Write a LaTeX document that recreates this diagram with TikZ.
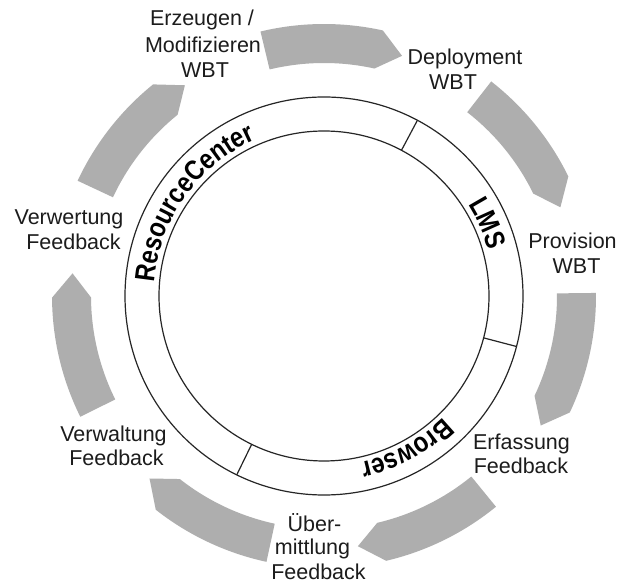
\documentclass[tikz,border=0pt]{standalone}
\usepackage{fontspec}
\setmainfont{Liberation Sans}
\newfontfamily\ringfam[FakeStretch=0.85]{Liberation Sans Bold}
\usetikzlibrary{decorations.text}
\definecolor{arrowgray}{RGB}{174,174,174}
\definecolor{txt}{RGB}{28,28,28}
\newcommand\ringfont{\ringfam\fontsize{28}{28}\selectfont}
\tikzset{
  lbl/.style={inner sep=0pt, text=txt, font=\fontsize{21.5}{25}\selectfont,
              text height=15.4pt, text depth=4.5pt, anchor=center},
  ringline/.style={draw=black!85, line width=1.2pt},
  cyclearrow/.style={fill=arrowgray, draw=none},
}
\begin{document}
\begin{tikzpicture}[x=1pt,y=1pt]
\useasboundingbox (0,0) rectangle (618,583);
\fill[white] (0,0) rectangle (618,583);

\begin{scope}[shift={(324,287)}]
  % ring
  \draw[ringline] (0,0) circle[radius=199];
  \draw[ringline] (0,0) circle[radius=165];
  \foreach \a in {62,-14.7,-116} {
    \draw[ringline] (\a:165) -- (\a:199);
  }
  % cycle arrows
  \foreach \i in {0,...,6} {
    \pgfmathsetmacro\ta{103.5-\i*51.4286}
    \pgfmathsetmacro\tb{\ta-26}
    \pgfmathsetmacro\tc{\ta-31.5}
    \fill[cyclearrow] (\ta:233) arc[start angle=\ta, end angle=\tb, radius=233]
      -- (\tc:252.5) -- (\tb:272) arc[start angle=\tb, end angle=\ta, radius=272] -- cycle;
  }
  % ring labels
  \path[decorate, decoration={text along path, text={|\ringfont|ResourceCenter}, text align=center}]
    (198:170.5) arc[start angle=198, end angle=91, radius=170.5];
  \path[decorate, decoration={text along path, text={|\ringfont|LMS}, text align=center}]
    (50:170.5) arc[start angle=50, end angle=-2, radius=170.5];
  \path[decorate, decoration={text along path, text={|\ringfont|Browser}, text align=center}]
    (-10:170.5) arc[start angle=-10, end angle=-113, radius=170.5];
\end{scope}

% labels
\node[lbl] (e1) at (202,563) {Erzeugen /};
\node[lbl] (e2) at (203,535.5) {Modifizieren};
\node[lbl] (e3) at (205,510.5) {WBT};
\node[lbl] (d1) at (465,524) {Deployment};
\node[lbl] (d2) at (453,498.5) {WBT};
\node[lbl] (p1) at (572.5,339.5) {Provision};
\node[lbl] (p2) at (576.5,315) {WBT};
\node[lbl] (f1) at (521.5,138.5) {Erfassung};
\node[lbl] (f2) at (521,115) {Feedback};
\node[lbl] (u1) at (314.5,57) {Über-};
\node[lbl] (u2) at (312.5,33.5) {mittlung};
\node[lbl] (u3) at (318.5,8.5) {Feedback};
\node[lbl] (v1) at (113.5,147) {Verwaltung};
\node[lbl] (v2) at (116.5,123) {Feedback};
\node[lbl] (w1) at (69,363.5) {Verwertung};
\node[lbl] (w2) at (73.5,338.5) {Feedback};
\end{tikzpicture}
\end{document}
